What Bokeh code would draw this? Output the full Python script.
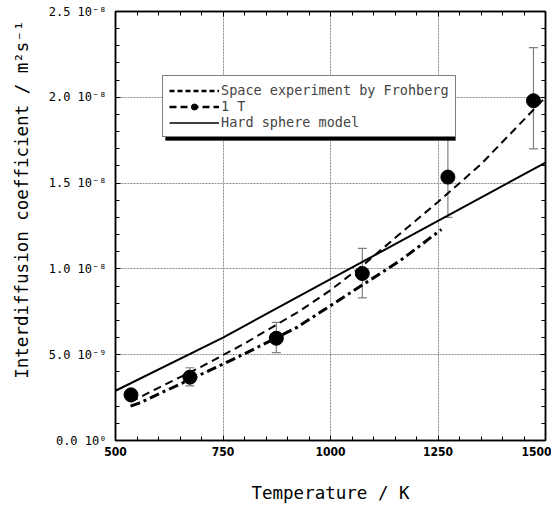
from bokeh.plotting import figure
from bokeh.models import (FixedTicker, LinearAxis, Range1d, Legend, LegendItem,
                          Whisker, ColumnDataSource, CustomJSTickFormatter,
                          BoxAnnotation, TeeHead)
from bokeh.embed import file_html
from bokeh.resources import INLINE

nan = float("nan")

# ---- data (diffusion coefficients in units of 1e-8 m^2/s) ----
temp_1t = [536, 673, 874, 1074, 1273, 1472]
d_1t = [0.266, 0.369, 0.596, 0.973, 1.535, 1.98]
d_1t_upper = [0.29, 0.424, 0.688, 1.12, 1.76, 2.29]
d_1t_lower = [0.245, 0.318, 0.512, 0.831, 1.30, 1.70]

temp_fit_1t = [535, 600, 700, 800, 930, 1000, 1075, 1150, 1250, 1350, 1450, 1500]
d_fit_1t = [0.225, 0.307, 0.43, 0.565, 0.757, 0.876, 1.02, 1.18, 1.39, 1.61, 1.87, 2.0]

temp_space = [535, 555, 720, 791, 922, 1000, 1163, 1258]
d_space = [0.20, 0.218, 0.41, 0.494, 0.659, 0.786, 1.05, 1.23]

temp_hs = [500, 750, 1000, 1250, 1500]
d_hs = [0.29, 0.60, 0.94, 1.28, 1.62]

x_ticks = [500, 750, 1000, 1250, 1500]
x_minor = list(range(500, 1501, 50))
y_ticks = [0.0, 0.5, 1.0, 1.5, 2.0, 2.5]
y_minor = [i / 10 for i in range(0, 26)]
y_tick_labels = ["0.0 10\u2070", "5.0 10\u207b\u2079", "1.0 10\u207b\u2078",
                 "1.5 10\u207b\u2078", "2.0 10\u207b\u2078", "2.5 10\u207b\u2078"]

label_space = "Space experiment by Frohberg"
label_1t = "1 T"
label_hs = "Hard sphere model"
x_title = "Temperature / K"
y_title = "Interdiffusion coefficient / m\u00b2s\u207b\u00b9"

MONO = "DejaVu Sans Mono"

p = figure(frame_width=430, frame_height=429,
           x_range=Range1d(500, 1500), y_range=Range1d(0, 2.5),
           output_backend="svg", toolbar_location=None,
           min_border_left=115, min_border_top=11, min_border_right=6,
           min_border_bottom=10, background_fill_color="white",
           border_fill_color="white")
p.outline_line_color = "black"
p.outline_line_width = 1.5

bottom_ax = p.below[0]
left_ax = p.left[0]

xt = FixedTicker(ticks=x_ticks, minor_ticks=x_minor)
yt = FixedTicker(ticks=y_ticks, minor_ticks=y_minor)

bottom_ax.ticker = xt
left_ax.ticker = yt
p.xgrid.ticker = xt
p.ygrid.ticker = yt
for g in (p.xgrid, p.ygrid):
    g.grid_line_color = "#8a8a8a"
    g.grid_line_dash = "2 1"
    g.grid_line_width = 1

left_ax.formatter = CustomJSTickFormatter(
    args=dict(yvals=y_ticks, ylabels=y_tick_labels),
    code="for (let i = 0; i < yvals.length; i++) { if (Math.abs(tick - yvals[i]) < 1e-6) return ylabels[i]; } return '';")

top_ax = LinearAxis(ticker=xt, formatter=CustomJSTickFormatter(code="return '';"),
                    major_label_standoff=0, major_label_text_font_size="0px")
right_ax = LinearAxis(ticker=yt, formatter=CustomJSTickFormatter(code="return '';"),
                      major_label_standoff=0, major_label_text_font_size="0px")
p.add_layout(top_ax, "above")
p.add_layout(right_ax, "right")

for ax in (bottom_ax, left_ax, top_ax, right_ax):
    ax.major_tick_in = 5
    ax.major_tick_out = 0
    ax.minor_tick_in = 4
    ax.minor_tick_out = 0
    ax.axis_line_width = 1.5
    ax.axis_line_color = "black"
    ax.major_tick_line_color = "black"
    ax.minor_tick_line_color = "black"

bottom_ax.major_label_text_font = "DejaVu Sans Condensed"
bottom_ax.major_label_text_font_style = "bold"
bottom_ax.major_label_text_font_size = "12px"
bottom_ax.major_label_text_color = "black"
bottom_ax.major_label_standoff = 6
bottom_ax.axis_label = x_title
bottom_ax.axis_label_text_font = MONO
bottom_ax.axis_label_text_font_style = "normal"
bottom_ax.axis_label_text_font_size = "17.5px"
bottom_ax.axis_label_text_color = "black"
bottom_ax.axis_label_standoff = 24

left_ax.major_label_text_font = MONO
left_ax.major_label_text_font_size = "12px"
left_ax.major_label_text_color = "black"
left_ax.major_label_standoff = 9
left_ax.axis_label = "\u00a0" * 5 + y_title
left_ax.axis_label_text_font = MONO
left_ax.axis_label_text_font_style = "normal"
left_ax.axis_label_text_font_size = "17.5px"
left_ax.axis_label_text_color = "black"
left_ax.axis_label_standoff = 14

# ---- curves ----
p.line(temp_hs, d_hs, line_color="black", line_width=2)
p.line(temp_fit_1t, d_fit_1t, line_color="black", line_width=2, line_dash="8 5")
p.line(temp_space, d_space, line_color="black", line_width=3, line_dash="10 4 3 4")

src = ColumnDataSource(dict(x=temp_1t, upper=d_1t_upper, lower=d_1t_lower))
p.add_layout(Whisker(source=src, base="x", upper="upper", lower="lower",
                     line_color="#808080", line_width=1.2,
                     upper_head=TeeHead(size=9, line_color="#808080", line_width=1.2),
                     lower_head=TeeHead(size=9, line_color="#808080", line_width=1.2)))
p.scatter(temp_1t, d_1t, size=14, color="black")

# ---- legend (proxy glyphs styled like the reference legend; no visible data) ----
lg_space = p.line([nan], [nan], line_color="black", line_width=2.5, line_dash="5 3")
lg_1t_line = p.line([nan], [nan], line_color="black", line_width=2.5, line_dash="7 4")
lg_1t_dot = p.scatter([nan], [nan], size=14, color="black")
lg_hs = p.line([nan], [nan], line_color="black", line_width=1.5)

p.add_layout(BoxAnnotation(left=50, right=340, bottom=300, top=357,
                           left_units="screen", right_units="screen",
                           bottom_units="screen", top_units="screen",
                           fill_color="black", fill_alpha=1, line_color="black"))

legend = Legend(items=[LegendItem(label=label_space, renderers=[lg_space]),
                       LegendItem(label=label_1t, renderers=[lg_1t_line, lg_1t_dot]),
                       LegendItem(label=label_hs, renderers=[lg_hs])],
                location=(47, 303), padding=6, spacing=0, margin=0,
                label_height=15, glyph_height=15, glyph_width=50, label_standoff=2,
                label_text_font=MONO, label_text_font_size="13.5px",
                border_line_color="black", border_line_width=1.5,
                background_fill_color="white", background_fill_alpha=1)
p.add_layout(legend, "center")

open("out.html", "w").write(file_html(p, INLINE))
